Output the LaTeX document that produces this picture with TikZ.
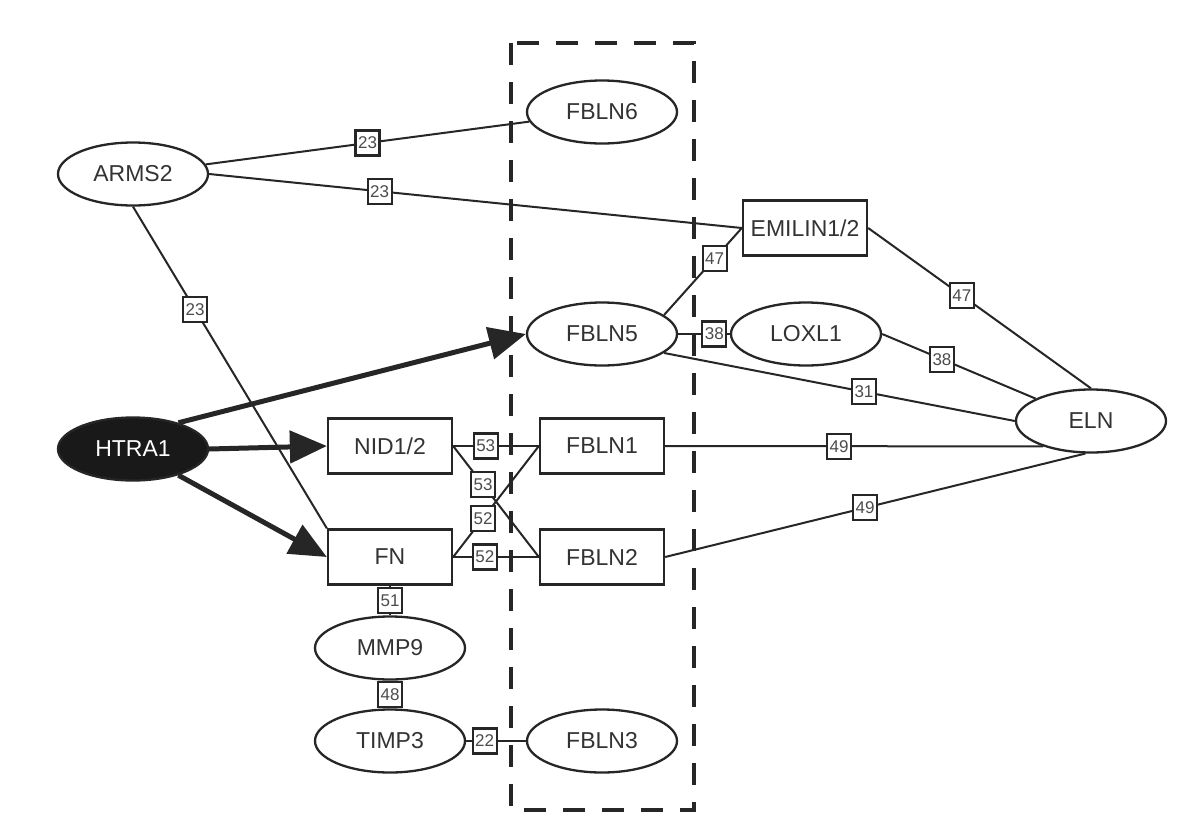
\documentclass[tikz,border=0pt]{standalone}
\usepackage{fontspec}
\setmainfont{Liberation Sans}
\usetikzlibrary{shapes.geometric,arrows.meta}
\begin{document}
\begin{tikzpicture}[x=1pt,y=-1pt,
  ell/.style={draw=black!85, line width=2.3pt, ellipse, fill=white, minimum width=150pt, minimum height=63pt, inner sep=0pt, text=black!80, font=\fontsize{23}{25}\selectfont},
  rbox/.style={draw=black!85, line width=2.3pt, rectangle, fill=white, minimum width=124pt, minimum height=55pt, inner sep=0pt, text=black!80, font=\fontsize{23}{25}\selectfont},
  num/.style={draw=black!85, line width=2.2pt, fill=white, minimum width=24pt, minimum height=25pt, inner sep=0pt, text=black!70, font=\fontsize{17}{17}\selectfont},
  link/.style={draw=black!85, line width=2pt},
  harrow/.style={draw=black!85, line width=5pt, -{Triangle[length=37pt,width=32pt]}}
]
\useasboundingbox (0,0) rectangle (1200,822);
\fill[white] (0,0) rectangle (1200,822);
\draw[black!85, line width=3.8pt, dash pattern=on 22pt off 17pt] (511,43) rectangle (694,810);

\node[ell] (arms) at (133,174) {ARMS2};
\node[ell, fill=black!90, text=white] (htra) at (133,449) {HTRA1};
\node[ell] (fbln6) at (602,112) {FBLN6};
\node[rbox] (emilin) at (805,228) {EMILIN1/2};
\node[ell] (fbln5) at (602,334) {FBLN5};
\node[ell] (loxl1) at (806,334) {LOXL1};
\node[ell] (eln) at (1091,421) {ELN};
\node[rbox] (nid) at (390,446) {NID1/2};
\node[rbox] (fbln1) at (602,446) {FBLN1};
\node[rbox] (fn) at (390,557) {FN};
\node[rbox] (fbln2) at (602,557) {FBLN2};
\node[ell] (mmp9) at (390,648) {MMP9};
\node[ell] (timp3) at (390,741) {TIMP3};
\node[ell] (fbln3) at (602,741) {FBLN3};

\draw[link] (arms) -- node[num, pos=0.5]{23} (fbln6);
\draw[link] (arms.east) -- node[num,pos=0.32]{23} (emilin.west);
\draw[link] (arms.south) -- node[num,pos=0.32]{23} (fn.north west);
\draw[link] (fbln5.17) -- node[num,pos=0.65]{47} (emilin.west);
\draw[link] (emilin.east) -- node[num,pos=0.42]{47} (eln.north);
\draw[link] (fbln5.east) -- node[num,pos=0.7]{38} (loxl1.west);
\draw[link] (loxl1.east) -- node[num,pos=0.39]{38} (eln.158);
\draw[link] (fbln5.-17) -- node[num,pos=0.57]{31} (eln.west);
\draw[link] (nid.east) -- node[num,pos=0.38]{53} (fbln1.west);
\draw[link] (nid.east) -- node[num,pos=0.35]{53} (fbln2.west);
\draw[link] (fn.east) -- node[num,pos=0.35]{52} (fbln1.west);
\draw[link] (fn.east) -- node[num,pos=0.37]{52} (fbln2.west);
\draw[link] (fbln1.east) -- node[num,pos=0.46]{49} (eln.208);
\draw[link] (fbln2.east) -- node[num,pos=0.476]{49} (eln.260);
\draw[link] (fn.south) -- node[num]{51} (mmp9.north);
\draw[link] (mmp9.south) -- node[num]{48} (timp3.north);
\draw[link] (timp3.east) -- node[num,pos=0.31]{22} (fbln3.west);
\draw[harrow] (htra.30) -- (fbln5.west);
\draw[harrow] (htra.east) -- (nid.west);
\draw[harrow] (htra.-30) -- (fn.west);
\end{tikzpicture}
\end{document}
